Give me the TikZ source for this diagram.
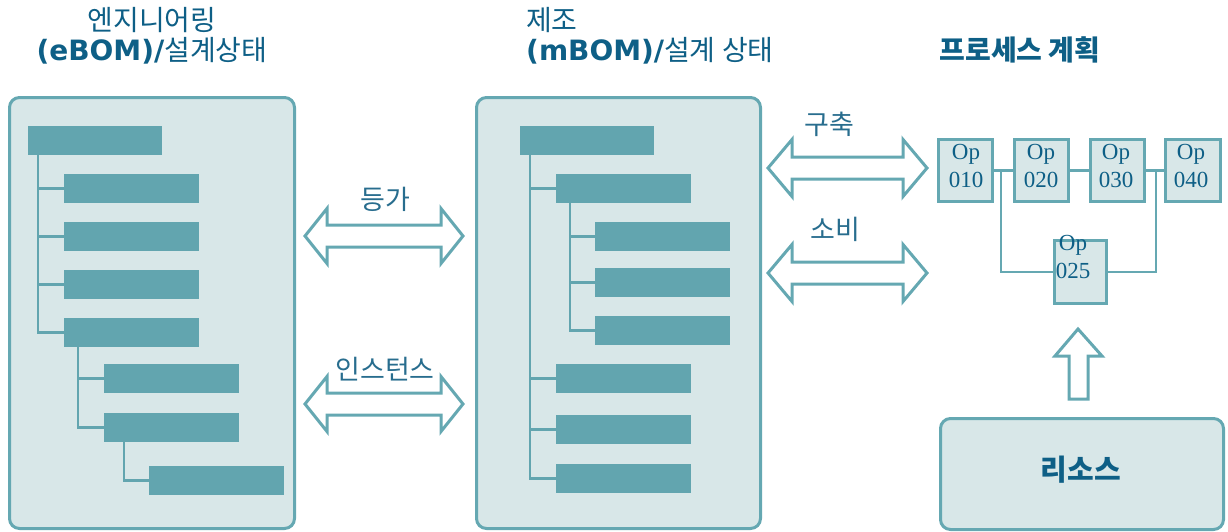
\documentclass[tikz,border=0pt]{standalone}
\usepackage{fontspec}
\setmainfont{Liberation Serif}
\newfontfamily\kr{Noto Sans CJK KR}
\newfontfamily\dv{DejaVu Sans}
\definecolor{panelc}{HTML}{D8E7E8}
\definecolor{borderc}{HTML}{65A8B2}
\definecolor{barc}{HTML}{62A5AF}
\definecolor{titlec}{HTML}{0E5F86}
\definecolor{labelc}{HTML}{286D8E}
\newcommand\myDArrow[5]{%
  \draw[harrow] (#1,#3) -- (#1+#4,#3-#5) -- (#1+#4,#3-11) -- (#2-#4,#3-11) -- (#2-#4,#3-#5) -- (#2,#3)
    -- (#2-#4,#3+#5) -- (#2-#4,#3+11) -- (#1+#4,#3+11) -- (#1+#4,#3+#5) -- cycle;}
\tikzset{
  panel/.style={draw=borderc, fill=panelc, line width=3, rounded corners=10, anchor=north west, inner sep=0},
  bar/.style={fill=barc, draw=none, minimum width=135, minimum height=29, anchor=north west, inner sep=0},
  tree/.style={draw=barc, line width=2.5},
  harrow/.style={draw=borderc, fill=white, line width=3, line join=miter},
  opbox/.style={draw=borderc, fill=panelc, line width=3, minimum width=54, minimum height=62, anchor=north west, inner sep=0},
  optext/.style={text=titlec, inner sep=0, align=center, font=\fontsize{23}{28}\selectfont},
  opline/.style={draw=borderc, line width=2.5},
  title/.style={text=titlec, inner sep=0, font=\kr\fontsize{28}{31}\selectfont},
  lbl/.style={text=labelc, inner sep=0, font=\kr\fontsize{27}{28}\selectfont},
}
\begin{document}
\begin{tikzpicture}[x=1pt,y=-1pt]
\useasboundingbox (0,0) rectangle (1228,531);
% titles
\node[title] (t1a) at (152,20) {엔지니어링};
\node[title] (t1b) at (152,51) {{\dv\bfseries (eBOM)/}설계상태};
\node[title, anchor=west] (t2a) at (526,20) {제조};
\node[title, anchor=west] (t2b) at (526,51) {{\dv\bfseries (mBOM)/}설계 상태};
\node[title, font=\kr\bfseries\fontsize{28}{31}\selectfont] (t3) at (1020,50) {프로세스 계획};
% panels
\node[panel, minimum width=285, minimum height=431] (ebom) at (8,96) {};
\node[panel, minimum width=284, minimum height=431] (mbom) at (475,96) {};
% eBOM bars
\node[bar, minimum width=134] (e1) at (28,126) {};
\node[bar] (e2) at (64,174) {};
\node[bar] (e3) at (64,222) {};
\node[bar] (e4) at (64,270) {};
\node[bar] (e5) at (64,318) {};
\node[bar] (e6) at (104,364) {};
\node[bar] (e7) at (104,413) {};
\node[bar] (e8) at (149,466) {};
\coordinate (ev1) at ([xshift=10]e1.south west);
\coordinate (ev2) at ([xshift=14]e5.south west);
\coordinate (ev3) at ([xshift=20]e7.south west);
\draw[tree] (ev1) |- (e5.west);
\foreach \b in {e2,e3,e4} \draw[tree] (ev1 |- \b.west) -- (\b.west);
\draw[tree] (ev2) |- (e7.west);
\draw[tree] (ev2 |- e6.west) -- (e6.west);
\draw[tree] (ev3) |- (e8.west);
% mBOM bars
\node[bar, minimum width=134] (m1) at (520,126) {};
\node[bar] (m2) at (556,174) {};
\node[bar] (m3) at (595,222) {};
\node[bar] (m4) at (595,268) {};
\node[bar] (m5) at (595,316) {};
\node[bar] (m6) at (556,364) {};
\node[bar] (m7) at (556,415) {};
\node[bar] (m8) at (556,464) {};
\coordinate (mv1) at ([xshift=10]m1.south west);
\coordinate (mv2) at ([xshift=14]m2.south west);
\draw[tree] (mv1) |- (m8.west);
\foreach \b in {m2,m6,m7} \draw[tree] (mv1 |- \b.west) -- (\b.west);
\draw[tree] (mv2) |- (m5.west);
\foreach \b in {m3,m4} \draw[tree] (mv2 |- \b.west) -- (\b.west);
% double arrows
\myDArrow{305}{463}{236}{22}{27.5}
\myDArrow{305}{463}{404}{22}{27.5}
\myDArrow{768}{927}{168}{24}{28.5}
\myDArrow{768}{927}{273}{24}{28.5}
\node[lbl] (l1) at (385,199) {등가};
\node[lbl] (l2) at (385,369) {인스턴스};
\node[lbl] (l3) at (829,124) {구축};
\node[lbl] (l4) at (835,229) {소비};
% operations
\node[opbox] (o1) at (937,138) {};
\node[opbox] (o2) at (1013,138) {};
\node[opbox] (o3) at (1089,138) {};
\node[opbox, minimum width=55] (o4) at (1164,138) {};
\node[opbox, minimum width=52, minimum height=63] (o5) at (1053,239) {};
\node[optext] (o1t) at (966,166) {Op\\010};
\node[optext] (o2t) at (1041,166) {Op\\020};
\node[optext] (o3t) at (1116,166) {Op\\030};
\node[optext] (o4t) at (1191,166) {Op\\040};
\node[optext] (o5t) at (1073,257) {Op\\025};
\draw[opline] (o1.east) -- (o2.west);
\draw[opline] (o2.east) -- (o3.west);
\draw[opline] (o3.east) -- (o4.west);
\coordinate (j1) at (1001,169);
\coordinate (j2) at (1156,169);
\draw[opline] (j1) |- (o5.west);
\draw[opline] (o5.east) -| (j2);
% resource
\node[panel, minimum width=283, minimum height=111] (res) at (939,417) {};
\node[text=titlec, inner sep=0, font=\kr\bfseries\fontsize{29}{31}\selectfont] (rest) at (1081,470) {리소스};
\draw[harrow] (1078,329) -- (1102,356) -- (1088,356) -- (1088,399) -- (1069,399) -- (1069,356) -- (1055,356) -- cycle;
\end{tikzpicture}
\end{document}
